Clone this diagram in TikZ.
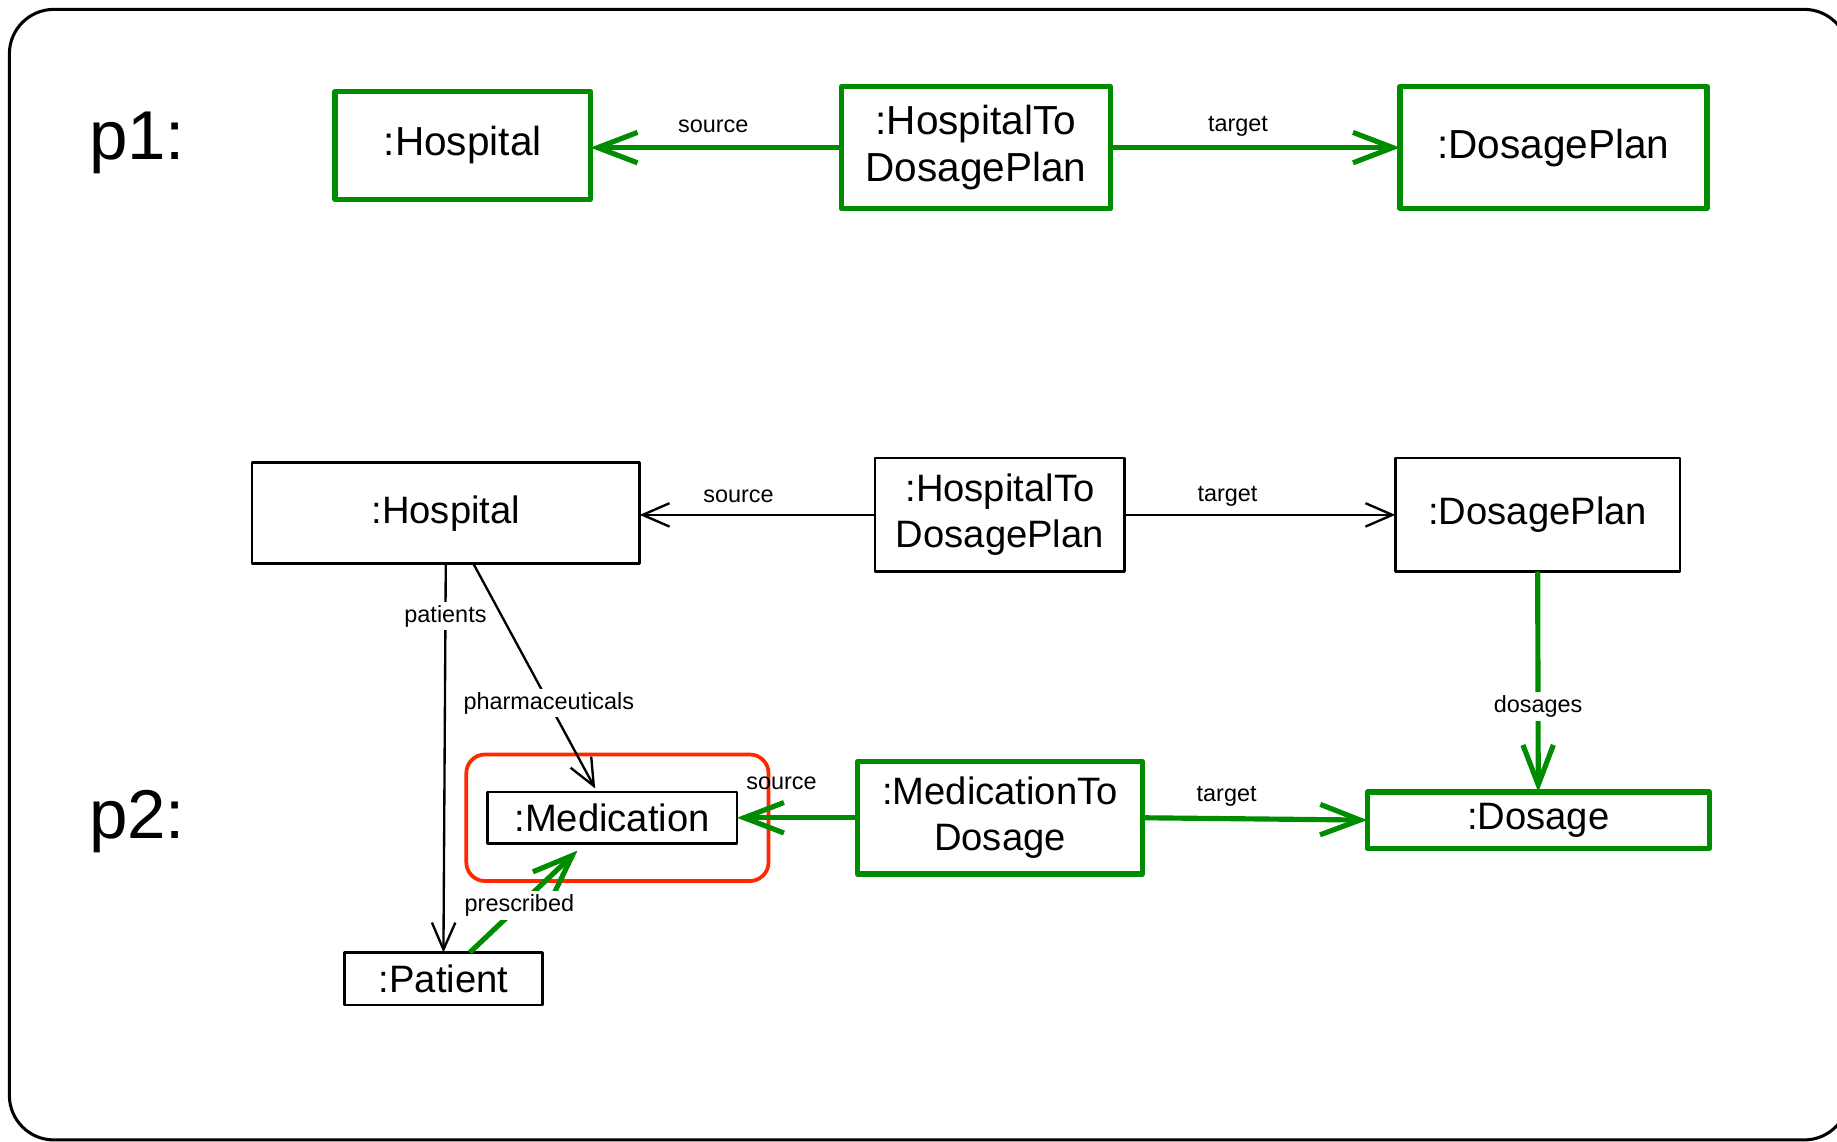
\documentclass[tikz,border=0pt]{standalone}
\usepackage{fontspec}
\setmainfont{Liberation Sans}
\usetikzlibrary{arrows.meta,calc}
\definecolor{objgreen}{RGB}{0,140,0}
\definecolor{matchred}{RGB}{255,40,0}

\begin{document}
\begin{tikzpicture}[x=0.5pt,y=-0.5pt,
  every node/.style={inner sep=0pt, outer sep=0pt},
  bigfont/.style={font=\fontsize{17.3pt}{20pt}\selectfont},
  midfont/.style={font=\fontsize{16.3pt}{19.5pt}\selectfont},
  lblfont/.style={font=\fontsize{10pt}{12pt}\selectfont},
  pfont/.style={font=\fontsize{29.5pt}{32pt}\selectfont},
  gbox/.style={draw=objgreen, line width=2.2pt, align=center, line join=round, fill=white},
  kbox/.style={draw=black, line width=1.1pt, align=center, line join=round, fill=white},
  garrow/.style={draw=objgreen, line width=2.2pt, -{Straight Barb[length=17pt,width=13pt]}},
  karrow/.style={draw=black, line width=1pt, -{Straight Barb[length=11.5pt,width=10pt]}},
  elabel/.style={lblfont, text=black},
  onlabel/.style={lblfont, fill=white, inner sep=1.5pt, text=black},
]
\useasboundingbox (0,0) rectangle (1568,974);

% outer frame
\draw[line width=1.3pt, rounded corners=19pt] (8,8) rectangle (1578,973);

% pattern labels
\node[pfont, anchor=base west] (p1) at (76,136) {p1:};
\node[pfont, anchor=base west] (p2) at (76,716) {p2:};

% ---- p1 ----
\node[gbox, bigfont, minimum width=109pt, minimum height=46pt] (H1) at (395,124) {:Hospital};
\node[gbox, bigfont, minimum width=115pt, minimum height=52pt] (HD1) at (833,126) {:HospitalTo\\DosagePlan};
\node[gbox, bigfont, minimum width=131pt, minimum height=52pt] (D1) at (1326,126) {:DosagePlan};

\draw[garrow] (HD1.west) -- node[elabel, pos=0.51, yshift=9pt] {source} (HD1.west -| H1.east);
\draw[garrow] (HD1.east) -- node[elabel, pos=0.44, yshift=9pt] {target} (HD1.east -| D1.west);

% ---- p2 ----
\node[kbox, midfont, minimum width=165.5pt, minimum height=43pt] (H2) at (380.5,438) {:Hospital};
\node[kbox, midfont, minimum width=106.5pt, minimum height=48.5pt] (HD2) at (853.5,439.5) {:HospitalTo\\DosagePlan};
\node[kbox, midfont, minimum width=121.5pt, minimum height=48.5pt] (D2) at (1312.5,439.5) {:DosagePlan};

\node[draw=matchred, line width=1.6pt, rounded corners=8pt, minimum width=129pt, minimum height=54pt] (match) at (527,698) {};
\node[kbox, midfont, minimum width=106.5pt, minimum height=22pt] (Med) at (522.5,698) {:Medication};
\node[gbox, midfont, minimum width=121.5pt, minimum height=48pt] (MD) at (853.5,698) {:MedicationTo\\Dosage};
\node[gbox, midfont, minimum width=146pt, minimum height=24pt] (Dos) at (1313,700) {:Dosage};
\node[kbox, midfont, minimum width=84.5pt, minimum height=22.5pt] (Pat) at (378.5,835.5) {:Patient};

\draw[karrow] (HD2.west) -- node[elabel, pos=0.58, yshift=8pt] {source} (HD2.west -| H2.east);
\draw[karrow] (HD2.east) -- node[elabel, pos=0.38, yshift=8pt] {target} (HD2.east -| D2.west);

\draw[garrow] (D2.south) -- node[onlabel, pos=0.61] {dosages} (Dos.north);
\draw[garrow] (MD.east) -- node[elabel, pos=0.375, yshift=9.5pt] {target} (Dos.west);
\draw[garrow] (MD.west) -- node[elabel, pos=0.63, yshift=14.5pt] {source} (MD.west -| Med.east);

\draw[karrow] (H2.south) -- node[onlabel, pos=0.135] {patients} (Pat.north);
\draw[karrow] ($(H2.south)+(23.5,0)$) -- node[onlabel, pos=0.62] {pharmaceuticals} ($(Med.north)+(-14.5,-3)$);
\draw[garrow] ($(Pat.north)+(22.5,0)$) -- node[onlabel, pos=0.46] {prescribed} ($(Med.south)+(-29.5,6)$);

\end{tikzpicture}
\end{document}
